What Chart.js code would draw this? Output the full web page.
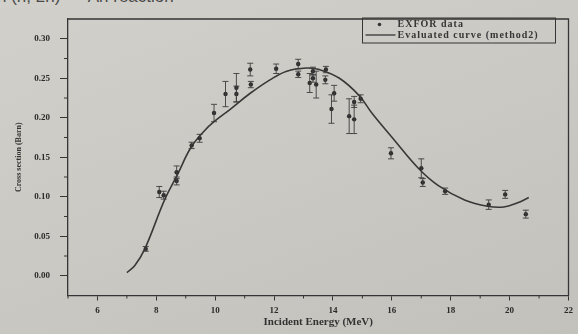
<!DOCTYPE html>
<html>
<head>
<meta charset="utf-8">
<script src="https://cdn.jsdelivr.net/npm/chart.js@4/dist/chart.umd.min.js"></script>
<style>
  html, body { margin: 0; padding: 0; }
  body {
    width: 578px; height: 334px; overflow: hidden; position: relative;
    background: linear-gradient(160deg, #d2d0ca 0%, #cac8c2 55%, #c3c1bb 100%);
  }
  #caption {
    position: absolute; top: -13px; left: -3px; white-space: pre;
    font: 17px "Liberation Sans", sans-serif; color: #4a4a4a;
  }
  #wrap { position: absolute; left: 0; top: 0; width: 578px; height: 334px; }
</style>
</head>
<body>
<div id="caption">n (n, 2n)      An reaction</div>
<div id="wrap"><canvas id="xsChart"></canvas></div>
<script>
// EXFOR points: energy (MeV), cross section (barn), uncertainty
const energyExp = [7.64, 8.1, 8.25, 8.69, 8.69, 9.2, 9.47, 9.96, 10.35, 10.72, 10.72,
    11.19, 11.21, 12.07, 12.82, 12.82, 13.21, 13.32, 13.32, 13.43, 13.74, 13.76,
    13.95, 14.04, 14.55, 14.72, 14.72, 14.94, 15.97, 17.0, 17.05, 17.81, 19.29, 19.85, 20.55];
const sigmaExp = [0.034, 0.106, 0.102, 0.131, 0.120, 0.165, 0.174, 0.206, 0.230, 0.238, 0.230,
    0.261, 0.242, 0.262, 0.268, 0.255, 0.244, 0.259, 0.250, 0.242, 0.248, 0.261,
    0.211, 0.231, 0.202, 0.220, 0.198, 0.224, 0.155, 0.136, 0.118, 0.107, 0.090, 0.103, 0.078];
const sigmaErr = [0.003, 0.007, 0.005, 0.008, 0.005, 0.004, 0.005, 0.011, 0.016, 0.018, 0.010,
    0.008, 0.004, 0.006, 0.006, 0.004, 0.012, 0.005, 0.005, 0.017, 0.005, 0.004,
    0.018, 0.010, 0.022, 0.007, 0.018, 0.005, 0.007, 0.012, 0.005, 0.004, 0.006, 0.005, 0.005];

// evaluated curve (method2)
const energyCurve = [7.0, 7.27, 7.61, 8.28, 8.73, 9.17, 9.62, 9.96, 10.52, 11.19, 11.86,
    12.43, 13.1, 13.54, 14.22, 14.89, 15.34, 16.01, 16.9, 17.58, 18.47, 19.25, 19.8, 20.25, 20.65];
const sigmaCurve = [0.004, 0.013, 0.034, 0.096, 0.129, 0.162, 0.183, 0.195, 0.211, 0.231, 0.248,
    0.259, 0.263, 0.261, 0.250, 0.228, 0.205, 0.175, 0.136, 0.114, 0.096, 0.088, 0.087, 0.092, 0.099];

const xTicks = [6, 8, 10, 12, 14, 16, 18, 20, 22];
const xMinorTicks = [5, 7, 9, 11, 13, 15, 17, 19, 21];
const yTicks = [0.00, 0.05, 0.10, 0.15, 0.20, 0.25, 0.30];
const yMinorTicks = [0.025, 0.075, 0.125, 0.175, 0.225, 0.275];

const ink = '#353535';
const serif = '"Liberation Serif", "DejaVu Serif", serif';

// error bars + frame + minor ticks + legend
const decorPlugin = {
    id: 'decor',
    afterDatasetsDraw(chart) {
        const ctx = chart.ctx;
        const xs = chart.scales.x, ys = chart.scales.y;
        ctx.save();
        ctx.strokeStyle = '#3c3c3c';
        ctx.lineWidth = 0.9;
        energyExp.forEach((e, i) => {
            const px = xs.getPixelForValue(e);
            const top = ys.getPixelForValue(sigmaExp[i] + sigmaErr[i]);
            const bot = ys.getPixelForValue(sigmaExp[i] - sigmaErr[i]);
            ctx.beginPath();
            ctx.moveTo(px, top); ctx.lineTo(px, bot);
            ctx.moveTo(px - 3, top); ctx.lineTo(px + 3, top);
            ctx.moveTo(px - 3, bot); ctx.lineTo(px + 3, bot);
            ctx.stroke();
        });
        ctx.restore();
    },
    afterDraw(chart) {
        const ctx = chart.ctx;
        const a = chart.chartArea;
        const xs = chart.scales.x, ys = chart.scales.y;
        ctx.save();
        ctx.strokeStyle = ink;
        ctx.lineWidth = 1.3;
        ctx.beginPath();
        ctx.moveTo(a.left, a.top); ctx.lineTo(a.right, a.top); ctx.lineTo(a.right, a.bottom);
        ctx.stroke();

        ctx.lineWidth = 1;
        ctx.beginPath();
        xMinorTicks.forEach(v => {
            const px = xs.getPixelForValue(v);
            ctx.moveTo(px, a.bottom); ctx.lineTo(px, a.bottom + 3);
        });
        yMinorTicks.forEach(v => {
            const py = ys.getPixelForValue(v);
            ctx.moveTo(a.left, py); ctx.lineTo(a.left - 4, py);
        });
        ctx.stroke();

        // legend box
        const bx = a.right - 206, by = a.top - 1, bw = 193, bh = 25;
        ctx.lineWidth = 1;
        ctx.strokeRect(bx, by, bw, bh);
        ctx.fillStyle = ink;
        ctx.beginPath();
        ctx.arc(bx + 17, by + 6.5, 1.8, 0, Math.PI * 2);
        ctx.fill();
        ctx.lineWidth = 1.3;
        ctx.beginPath();
        ctx.moveTo(bx + 3, by + 17); ctx.lineTo(bx + 33, by + 17);
        ctx.stroke();
        ctx.font = 'bold 10px ' + serif;
        ctx.letterSpacing = '1px';
        ctx.textBaseline = 'middle';
        ctx.fillStyle = '#353535';
        ctx.fillText('EXFOR data', bx + 35, by + 6.5);
        ctx.fillText('Evaluated curve (method2)', bx + 35, by + 17);
        ctx.restore();
    }
};

const ctx = document.getElementById('xsChart').getContext('2d');
new Chart(ctx, {
    type: 'scatter',
    data: {
        datasets: [{
            label: 'EXFOR data',
            data: energyExp.map((e, i) => ({ x: e, y: sigmaExp[i] })),
            pointRadius: 2.2,
            pointBackgroundColor: '#2e2e2e',
            pointBorderColor: '#2e2e2e',
            pointBorderWidth: 0
        }, {
            label: 'Evaluated curve (method2)',
            data: energyCurve.map((e, i) => ({ x: e, y: sigmaCurve[i] })),
            showLine: true,
            tension: 0.4,
            borderColor: '#383838',
            borderWidth: 1.6,
            pointRadius: 0
        }]
    },
    options: {
        responsive: true,
        maintainAspectRatio: false,
        animation: false,
        layout: { padding: { top: 19, right: 5, left: 0, bottom: 0 } },
        plugins: {
            legend: { display: false },
            tooltip: { enabled: false }
        },
        scales: {
            x: {
                type: 'linear',
                min: 5,
                max: 22,
                afterBuildTicks: s => { s.ticks = xTicks.map(v => ({ value: v })); },
                afterFit: s => { s.height = 38.5; },
                border: { display: true, color: ink, width: 1.3 },
                grid: { display: true, drawOnChartArea: false, drawTicks: true, tickLength: 5, color: ink },
                ticks: {
                    padding: 5,
                    color: '#2a2a2a',
                    font: { family: serif, size: 9, weight: 'bold' },
                    maxRotation: 0,
                    callback: v => String(v)
                },
                title: {
                    display: true,
                    text: 'Incident Energy (MeV)',
                    color: '#333',
                    font: { family: serif, size: 11, weight: 'bold' },
                    padding: { top: 0, bottom: 5 }
                }
            },
            y: {
                type: 'linear',
                min: -0.025,
                max: 0.325,
                afterBuildTicks: s => { s.ticks = yTicks.map(v => ({ value: v })); },
                afterFit: s => { s.width = 68; },
                border: { display: true, color: ink, width: 1.3 },
                grid: { display: true, drawOnChartArea: false, drawTicks: true, tickLength: 8, color: ink },
                ticks: {
                    padding: 10,
                    color: '#2a2a2a',
                    font: { family: serif, size: 9, weight: 'bold' },
                    callback: v => v.toFixed(2)
                },
                title: {
                    display: true,
                    text: 'Cross section (Barn)',
                    color: '#333',
                    font: { family: serif, size: 8, weight: 'bold' },
                    padding: { top: 14, bottom: 0 }
                }
            }
        }
    },
    plugins: [decorPlugin]
});
</script>
</body>
</html>
